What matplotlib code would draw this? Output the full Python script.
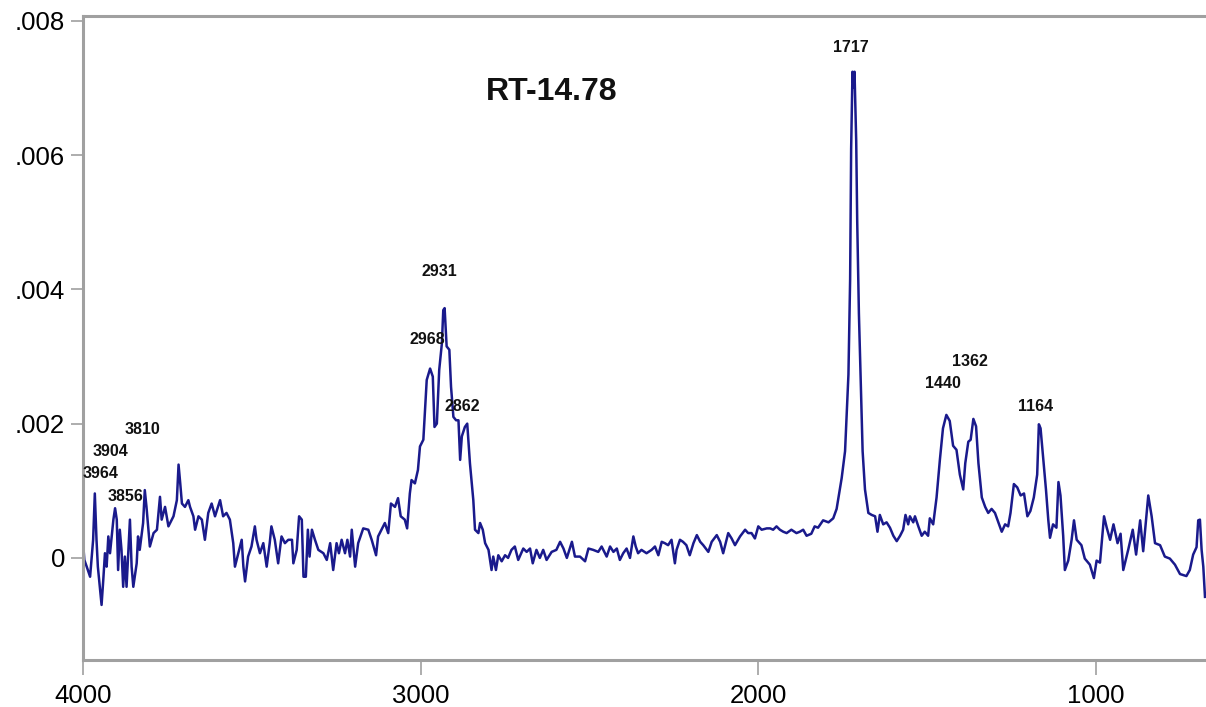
import matplotlib
matplotlib.use("Agg")
import matplotlib.pyplot as plt
from matplotlib.ticker import FixedLocator, FuncFormatter

# Spectrum (wavenumber in cm-1, absorbance in 1e-4 units)
wavenumber = [
    4000, 3996, 3989, 3979, 3970, 3965, 3960, 3956, 3945, 3940, 3935, 3930, 3925, 3920,
    3910, 3905, 3900, 3896, 3891, 3886, 3881, 3876, 3871, 3861, 3856, 3851, 3841, 3837,
    3832, 3822, 3817, 3812, 3802,
    3791, 3781, 3772, 3767, 3757, 3747, 3732, 3722, 3717, 3712, 3707, 3698, 3688, 3683,
    3673, 3668, 3658, 3648, 3639, 3629, 3619, 3609, 3594, 3585, 3575, 3565, 3555, 3550,
    3540, 3530, 3525, 3520, 3511, 3501, 3491, 3486, 3476, 3466, 3456, 3447, 3442, 3432,
    3422, 3412, 3402,
    3392, 3381, 3377, 3367, 3360, 3352, 3347, 3340, 3334, 3329, 3322, 3313, 3303, 3288,
    3278, 3268, 3259, 3249, 3242, 3234, 3224, 3217, 3209, 3204, 3194, 3185, 3170, 3155,
    3145, 3132, 3126, 3116, 3106, 3096, 3088, 3076, 3067, 3059, 3047, 3040, 3032, 3027,
    3017, 3008, 3002,
    2992, 2987, 2982, 2972, 2964, 2959, 2952, 2945, 2937, 2933, 2929, 2926, 2923, 2915,
    2910, 2903, 2895, 2888, 2883, 2878, 2869, 2862, 2854, 2844, 2839, 2829, 2824, 2816,
    2809, 2799, 2790, 2785, 2777, 2770, 2760, 2750, 2741, 2731, 2721, 2711, 2696, 2686,
    2676, 2668, 2657, 2647, 2637, 2627, 2612, 2598,
    2587, 2577, 2567, 2552, 2543, 2528, 2513, 2503, 2489, 2474, 2464, 2449, 2439, 2429,
    2419, 2410, 2400, 2390, 2380, 2370, 2363, 2356, 2346, 2331, 2316, 2306, 2296, 2286,
    2277, 2267, 2257, 2247, 2242, 2232, 2223, 2213, 2203,
    2192, 2182, 2172, 2163, 2148, 2138, 2123, 2113, 2104, 2089, 2079, 2069, 2054, 2039,
    2030, 2020, 2010, 2000, 1990, 1975, 1965, 1956, 1946, 1936, 1926, 1916, 1902, 1887,
    1877, 1867, 1857, 1843, 1833, 1823, 1808,
    1792, 1778, 1768, 1753, 1743, 1733, 1728, 1725, 1721, 1718, 1715, 1710, 1707, 1702,
    1697, 1691, 1684, 1674, 1664, 1654, 1647, 1640, 1630, 1620, 1610, 1600, 1590, 1580,
    1571, 1564, 1556, 1551, 1541, 1536, 1526, 1516, 1507, 1497, 1492, 1482, 1472, 1462,
    1453, 1443, 1433, 1423, 1413, 1403,
    1393, 1387, 1378, 1371, 1363, 1355, 1348, 1338, 1328, 1319, 1309, 1299, 1289, 1279,
    1269, 1260, 1253, 1243, 1233, 1223, 1213, 1203, 1194, 1184, 1174, 1169, 1164, 1156,
    1148, 1141, 1136, 1127, 1117, 1111, 1105, 1097, 1092, 1082, 1072, 1065, 1057, 1043,
    1033, 1018, 1006, 998,
    988, 976, 968, 958, 948, 936, 927, 919, 904, 891, 881, 869, 860, 845, 835, 825, 810,
    796, 781, 766, 751, 732, 722, 712, 702, 697, 692, 687, 682, 677,
]

absorbance_e4 = [
    2.4, -0.3, -1.3, -2.8, 2.7, 9.6, 2.7, -1.3, -7.0, -3.3, 0.7, -1.3, 3.2, 0.7,
    5.7, 7.4, 5.7, -1.8, 4.2, 1.2, -4.3, 0.2, -4.3, 5.7, -1.3, -4.3, -0.8, 3.2,
    1.2, 5.2, 10.1, 7.6, 1.7,
    3.7, 4.2, 9.1, 5.7, 7.6, 4.7, 6.2, 8.6, 13.9, 11.1, 8.1, 7.6, 8.6, 7.6,
    6.2, 4.2, 6.2, 5.7, 2.7, 6.7, 8.1, 6.2, 8.6, 6.2, 6.7, 5.7, 2.2, -1.3,
    0.7, 2.7, -1.3, -3.5, 0.2, 1.7, 4.7, 2.7, 0.7, 2.2, -1.3, 2.2, 4.7, 2.7,
    -0.8, 3.2, 2.2,
    2.7, 2.7, -0.8, 1.2, 6.2, 5.7, -2.8, -2.8, 4.2, 0.2, 4.2, 2.7, 1.2, 0.7,
    -0.3, 2.2, -1.8, 2.2, 0.7, 2.7, 0.7, 2.7, 0.2, 4.2, -1.3, 2.2, 4.4, 4.2,
    2.7, 0.4, 3.2, 4.2, 5.2, 3.7, 8.1, 7.6, 8.9, 6.2, 5.7, 4.4, 9.6, 11.6,
    11.1, 13.1, 16.6,
    17.6, 22.0, 26.5, 28.2, 27.0, 19.5, 20.0, 28.0, 32.0, 36.9, 37.2, 34.4, 31.5, 31.0,
    25.5, 21.0, 20.5, 20.5, 14.6, 18.1, 19.5, 20.0, 14.1, 8.6, 4.2, 3.7, 5.2, 4.2,
    2.2, 1.2, -1.8, 0.2, -1.8, 0.4, -0.5, 0.4, 0.0, 1.2, 1.7, -0.3, 1.4, 0.9,
    1.4, -0.8, 1.2, 0.0, 1.2, -0.3, 0.9, 1.2,
    2.4, 1.4, 0.0, 2.4, 0.2, 0.2, -0.5, 1.4, 1.2, 0.9, 1.7, 0.2, 1.7, 0.9,
    1.4, -0.3, 0.7, 1.4, 0.0, 3.2, 1.7, 0.7, 1.2, 0.7, 1.2, 1.7, 0.4, 2.4,
    2.2, 1.9, 2.7, -0.8, 1.2, 2.7, 2.4, 1.9, 0.4,
    2.2, 3.4, 2.4, 1.9, 0.9, 2.4, 3.4, 2.4, 0.7, 3.7, 2.9, 1.9, 3.2, 4.2,
    3.7, 3.7, 2.9, 4.7, 4.2, 4.4, 4.4, 4.2, 4.7, 4.2, 3.9, 3.7, 4.2, 3.7,
    3.9, 4.2, 3.3, 3.6, 4.7, 4.5, 5.6,
    5.3, 5.9, 7.3, 11.9, 15.9, 27.3, 41.5, 60.9, 72.4, 70.1, 72.4, 62.1, 50.1, 36.4,
    27.3, 15.9, 10.2, 6.7, 6.4, 6.2, 3.9, 6.4, 5.0, 5.3, 4.5, 3.3, 2.5, 3.3,
    4.2, 6.4, 5.0, 6.2, 5.3, 6.2, 4.7, 3.3, 3.9, 3.3, 5.9, 5.0, 9.0, 14.7,
    19.3, 21.3, 20.4, 16.7, 16.1, 12.4,
    10.2, 14.1, 17.3, 17.6, 20.7, 19.6, 14.1, 9.0, 7.6, 6.7, 7.3, 6.7, 5.3, 3.9,
    5.0, 4.7, 6.7, 11.0, 10.5, 9.3, 9.6, 6.2, 7.0, 9.0, 12.4, 19.9, 19.3, 14.7,
    10.2, 5.6, 3.0, 5.0, 4.5, 11.3, 9.3, 3.3, -1.8, -0.4, 2.7, 5.6, 2.7, 1.9,
    -0.1, -1.0, -3.0, -0.4,
    -0.7, 6.2, 4.5, 2.7, 5.0, 2.2, 3.6, -1.8, 1.3, 4.2, 0.5, 5.6, 1.0, 9.3, 6.2, 2.2, 1.9,
    0.2, -0.1, -1.0, -2.4, -2.7, -1.8, 0.5, 1.6, 5.6, 5.7, 1.2, -1.3, -5.8,
]

absorbance = [v * 1e-4 for v in absorbance_e4]

peak_labels = ["1717", "2931", "2968", "2862", "1440", "1362", "1164",
               "3810", "3904", "3964", "3856"]
peak_label_x = [1726, 2946, 2981, 2878, 1453, 1373, 1178, 3825, 3920, 3947, 3873]
peak_label_y = [0.00760, 0.00426, 0.00325, 0.00225, 0.00259, 0.00292, 0.00225,
                0.00191, 0.00158, 0.00125, 0.00092]

title_text = "RT-14.78"
x_ticks = [4000, 3000, 2000, 1000]
y_ticks = [0.0, 0.002, 0.004, 0.006, 0.008]

plt.rcParams['font.family'] = ['Liberation Sans', 'DejaVu Sans']

fig = plt.figure(figsize=(12.06, 7.07), dpi=100)
ax = fig.add_axes([83 / 1206, 47 / 707, (1206 - 83) / 1206, (660 - 16) / 707])

ax.plot(wavenumber, absorbance, color='#1a1a8c', linewidth=1.8)

ax.set_xlim(4000, 674)
ax.set_ylim(-0.00152, 0.00807)

grey = '#a0a0a0'
for side in ['left', 'bottom', 'top']:
    ax.spines[side].set_color(grey)
    ax.spines[side].set_linewidth(2.2)
ax.spines['right'].set_visible(False)

ax.xaxis.set_major_locator(FixedLocator(x_ticks))
ax.yaxis.set_major_locator(FixedLocator(y_ticks))
ax.xaxis.set_major_formatter(FuncFormatter(lambda v, p: f"{int(round(v))}"))


def yfmt(v, p):
    if abs(v) < 1e-12:
        return "0"
    return f"{v:.3f}".lstrip("0")


ax.yaxis.set_major_formatter(FuncFormatter(yfmt))
ax.tick_params(axis='x', direction='out', length=11, width=1.2, color=grey,
               labelsize=18.5, pad=6, top=False)
ax.tick_params(axis='y', direction='out', length=9, width=1.2, color=grey,
               labelsize=18.5, pad=4, right=False)

for lab, lx, ly in zip(peak_labels, peak_label_x, peak_label_y):
    ax.text(lx, ly, lab, ha='center', va='center', fontsize=11.5,
            fontweight='bold', color='#111111')

ax.text(0.417, 0.882, title_text, transform=ax.transAxes, ha='center', va='center',
        fontsize=23, fontweight='bold', color='#111111')

fig.savefig("out.png", dpi=100)
